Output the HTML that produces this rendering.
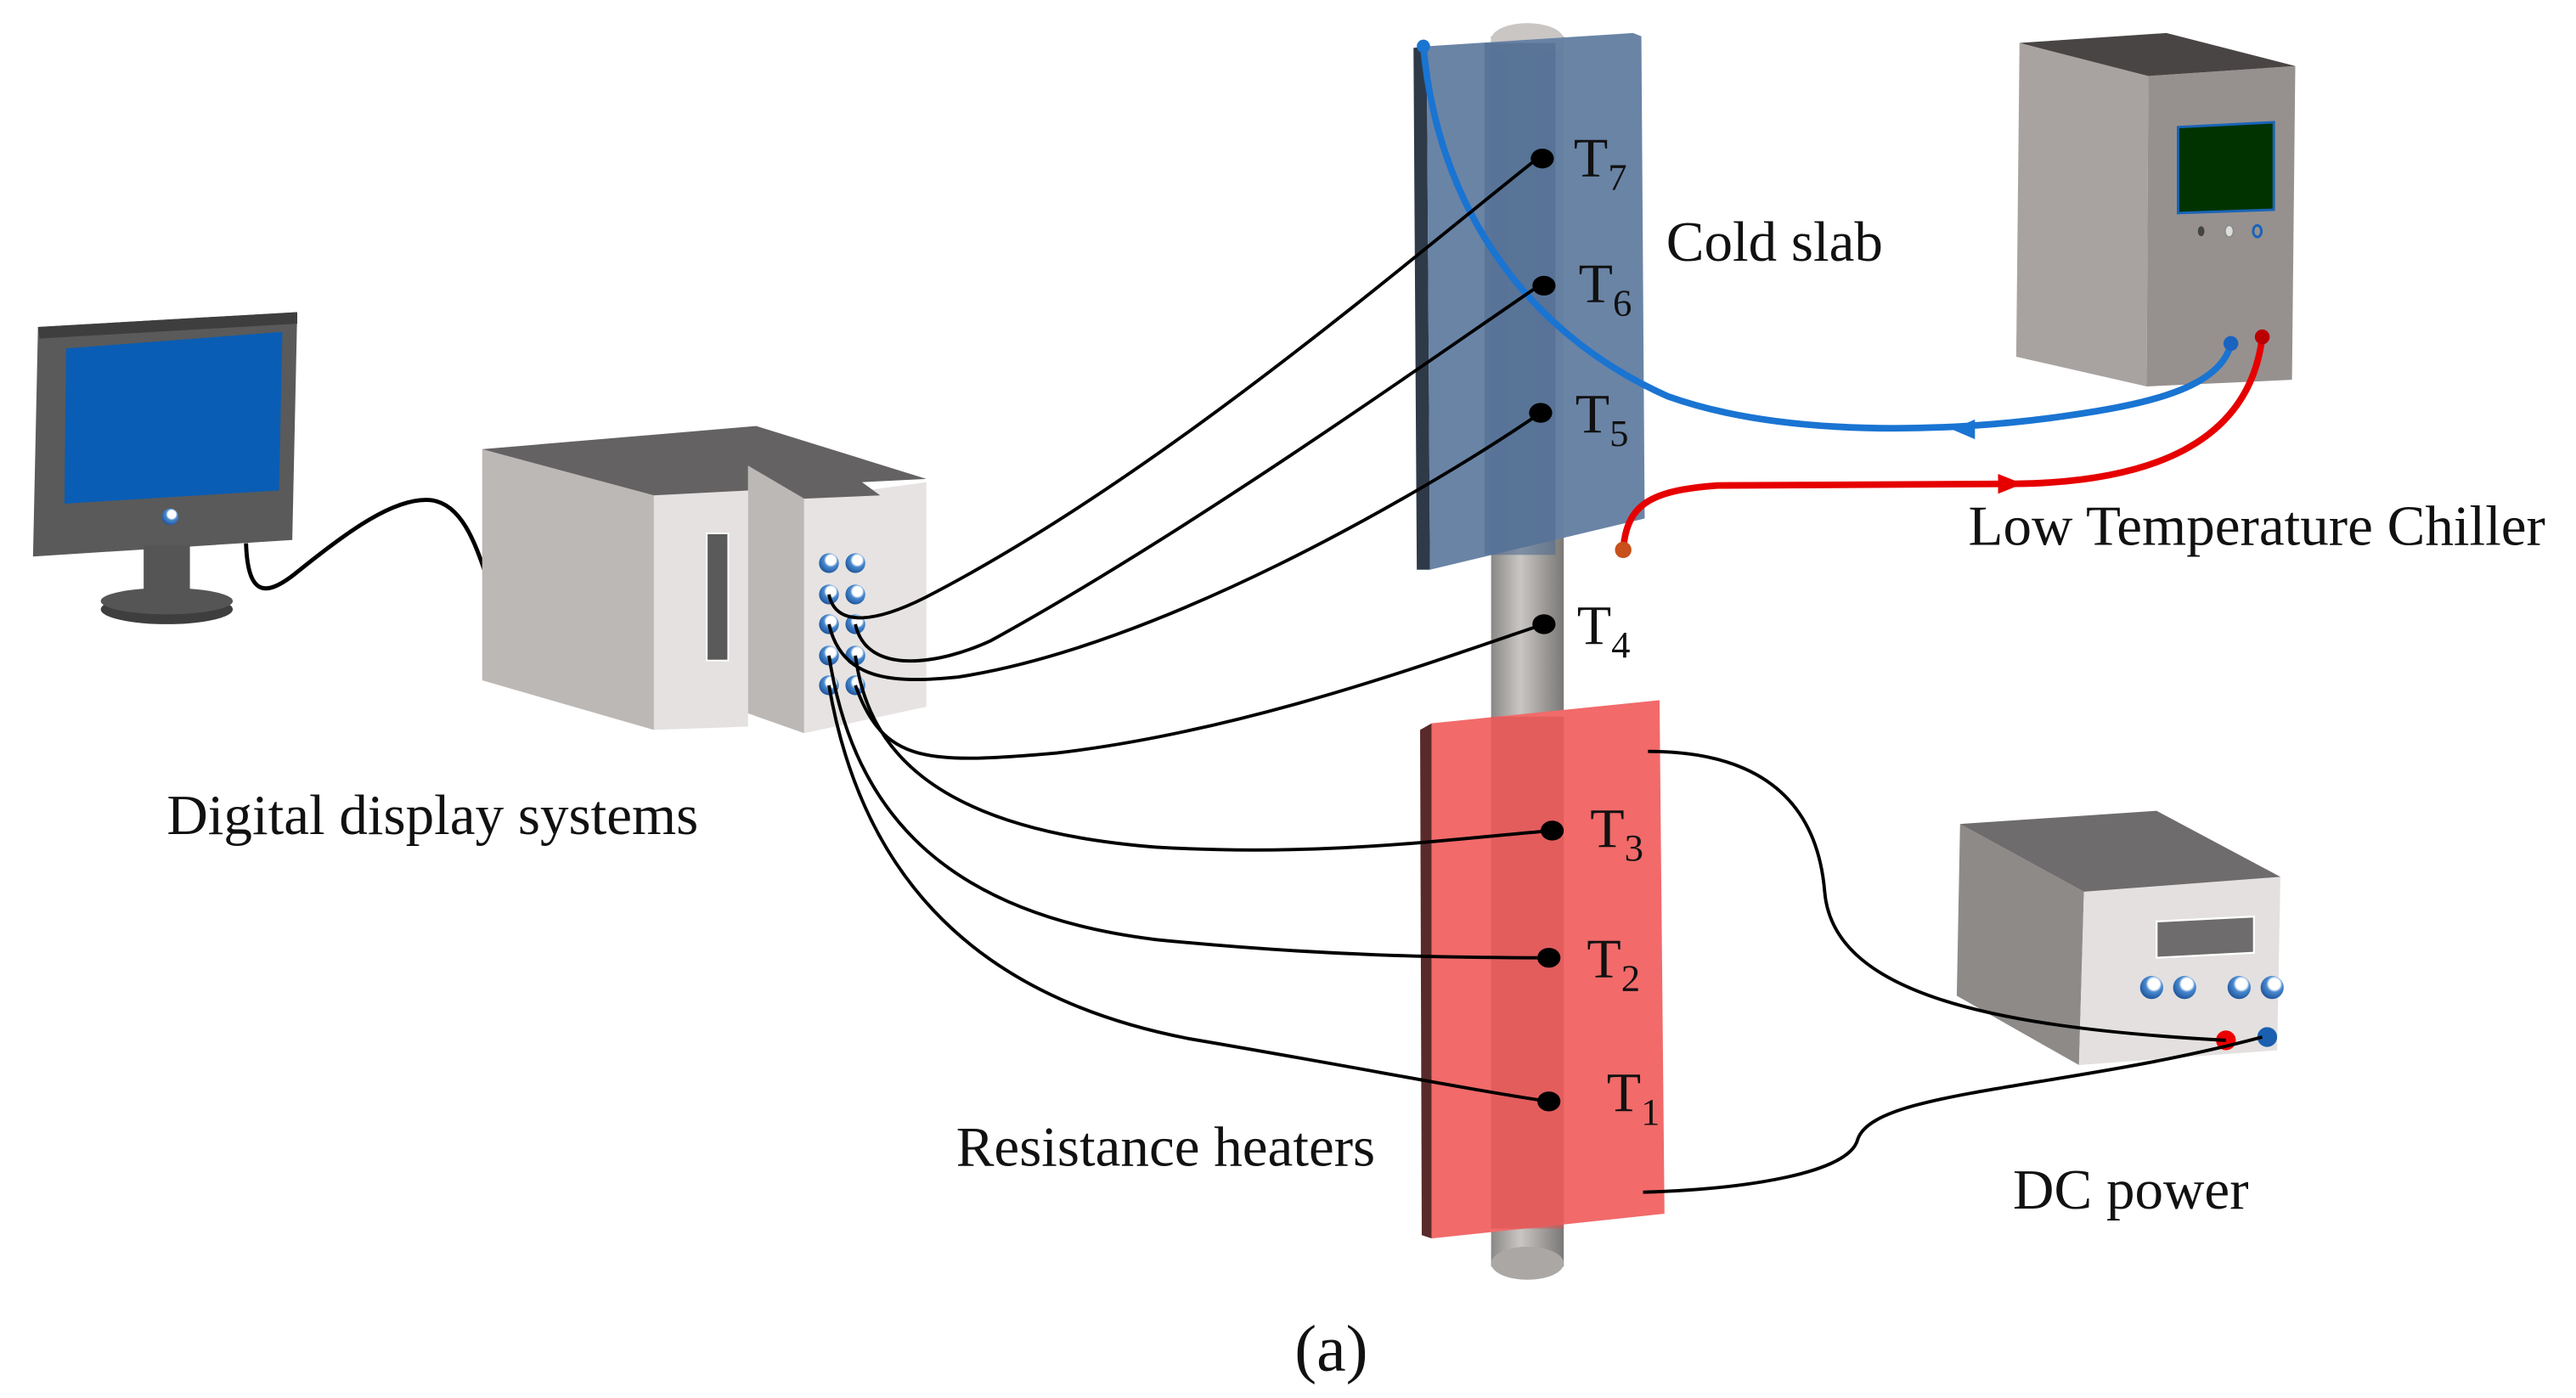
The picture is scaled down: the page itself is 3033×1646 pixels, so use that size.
<!DOCTYPE html>
<html><head><meta charset="utf-8"><style>
html,body{margin:0;padding:0;background:#fff;}
svg{display:block;}
text{font-family:"Liberation Serif",serif;fill:#111;}
</style></head><body>
<svg width="3033" height="1646" viewBox="0 0 1560 846.6" xmlns="http://www.w3.org/2000/svg">
<defs>
<linearGradient id="rod" x1="0" x2="1" y1="0" y2="0">
<stop offset="0" stop-color="#8a8886"/><stop offset="0.4" stop-color="#c9c6c3"/><stop offset="1" stop-color="#7a7876"/>
</linearGradient>
<radialGradient id="knob" cx="0.6" cy="0.35" r="0.7">
<stop offset="0" stop-color="#fff"/><stop offset="0.35" stop-color="#fff"/><stop offset="0.5" stop-color="#4a8ad0"/><stop offset="1" stop-color="#1a4f95"/>
</radialGradient>
</defs>

<!-- Monitor -->
<polygon points="23,198 180,189 177,327 20,337" fill="#5a5a5a"/>
<polygon points="23,198 180,189 180,196 24,205" fill="#3e3e3e"/>
<polygon points="40,211 171,201 169,297 39,305" fill="#0a5db4"/>
<circle cx="103" cy="313" r="5" fill="url(#knob)"/>
<rect x="87" y="330" width="28" height="28" fill="#555"/>
<ellipse cx="101" cy="369" rx="40" ry="9" fill="#3e3e3e"/>
<ellipse cx="101" cy="364" rx="40" ry="8" fill="#555"/>
<path d="M149,329 C150,360 160,362 178,348 C210,322 240,300 262,303 C280,306 288,330 294,347" fill="none" stroke="#000" stroke-width="2.5"/>

<!-- Display box -->
<polygon points="292,272 396,300 396,442 292,412" fill="#bcb8b6"/>
<polygon points="396,300 453,297 453,440 396,442" fill="#e4e1e0"/>
<rect x="428" y="323" width="13" height="77" fill="#5a5a5a" stroke="#fff" stroke-width="1"/>
<polygon points="453,282 487,302 487,444 453,432" fill="#bcb8b6"/>
<polygon points="487,302 561,292 561,428 487,444" fill="#e6e3e2"/>
<polygon points="292,272 458,258 561,290 522,292 533,300 487,302 453,282 453,297 396,300" fill="#646262"/>
<g fill="url(#knob)">
<circle cx="502" cy="341" r="6"/><circle cx="518" cy="341" r="6"/>
<circle cx="502" cy="360" r="6"/><circle cx="518" cy="360" r="6"/>
<circle cx="502" cy="378" r="6"/><circle cx="518" cy="378" r="6"/>
<circle cx="502" cy="397" r="6"/><circle cx="518" cy="397" r="6"/>
<circle cx="502" cy="415" r="6"/><circle cx="518" cy="415" r="6"/>
</g>

<!-- Rod -->
<rect x="903" y="22" width="44" height="745" fill="url(#rod)"/>
<ellipse cx="925" cy="24" rx="22" ry="10" fill="#c9c6c3"/>
<ellipse cx="925" cy="765" rx="22" ry="10" fill="#aaa7a4"/>

<!-- Cold slab -->
<polygon points="856,29 864,28 866,345 858,345" fill="#2f3a48"/>
<polygon points="864,28 989,20 994,22 996,314 866,345" fill="#6580a3" opacity="0.97"/>
<rect x="899" y="26" width="43" height="310" fill="#4f6a8f" opacity="0.6"/>

<!-- Heater -->
<polygon points="860,442 867,438 867,750 861,748" fill="#5a2a2a"/>
<polygon points="867,438 1005,424 1008,735 867,750" fill="#f26a6a"/>
<rect x="903" y="434" width="44" height="310" fill="#d85555" opacity="0.6"/>

<!-- Chiller -->
<polygon points="1223,26 1301,46 1300,234 1221,216" fill="#a8a3a1"/>
<polygon points="1301,46 1390,40 1388,230 1300,234" fill="#96918f"/>
<polygon points="1223,26 1312,20 1390,40 1301,46" fill="#4a4545"/>
<polygon points="1319,77 1377,74 1377,127 1319,129" fill="#013301" stroke="#1a64b8" stroke-width="1.5"/>
<ellipse cx="1333" cy="140" rx="2" ry="3" fill="#444"/>
<ellipse cx="1350" cy="140" rx="2.5" ry="3.5" fill="#ddd" stroke="#888" stroke-width="0.8"/>
<ellipse cx="1367" cy="140" rx="2.5" ry="3.5" fill="none" stroke="#1a64b8" stroke-width="1.5"/>

<!-- Pipes -->
<path d="M862,28 C870,120 920,200 1010,240 C1080,265 1180,262 1250,252 C1300,245 1345,235 1351,208" fill="none" stroke="#1a74d2" stroke-width="4"/>
<circle cx="862" cy="28" r="4" fill="#1a74d2"/>
<circle cx="1351" cy="208" r="4.5" fill="#1a64c0"/>
<polygon points="1182,260 1196,254 1196,266" fill="#1a74d2"/>
<path d="M983,333 C985,305 1000,297 1040,294 L1220,293 C1300,292 1362,270 1370,204" fill="none" stroke="#e60000" stroke-width="4"/>
<circle cx="1370" cy="204" r="4.5" fill="#b00"/>
<polygon points="1225,293 1210,287 1210,299" fill="#e60000"/>
<circle cx="983" cy="333" r="5" fill="#c8501a"/>

<!-- Thermocouple wires -->
<g fill="none" stroke="#000" stroke-width="2">
<path d="M502,360 C506,380 530,377 560,362 C700,290 850,160 931,96"/>
<path d="M518,378 C525,410 570,402 600,388 C720,322 860,222 932,173"/>
<path d="M502,378 C510,412 540,414 580,410 C700,392 860,300 933,250"/>
<path d="M518,415 C535,462 560,463 640,456 C760,442 880,396 935,378"/>
<path d="M518,397 C525,450 560,502 700,513 C800,519 880,508 940,503"/>
<path d="M502,397 C515,480 560,552 700,569 C800,579 880,580 938,580"/>
<path d="M502,415 C520,520 580,602 720,629 C820,646 890,660 938,667"/>
</g>
<g fill="#000">
<ellipse cx="934" cy="96" rx="7" ry="6"/>
<ellipse cx="935" cy="173" rx="7" ry="6"/>
<ellipse cx="933" cy="250" rx="7" ry="6"/>
<ellipse cx="935" cy="378" rx="7" ry="6"/>
<ellipse cx="940" cy="503" rx="7" ry="6"/>
<ellipse cx="938" cy="580" rx="7" ry="6"/>
<ellipse cx="938" cy="667" rx="7" ry="6"/>
</g>

<!-- T labels -->
<g font-size="34">
<text x="953" y="107">T<tspan font-size="23" dy="8">7</tspan></text>
<text x="956" y="183">T<tspan font-size="23" dy="8">6</tspan></text>
<text x="954" y="262">T<tspan font-size="23" dy="8">5</tspan></text>
<text x="955" y="390">T<tspan font-size="23" dy="8">4</tspan></text>
<text x="963" y="513">T<tspan font-size="23" dy="8">3</tspan></text>
<text x="961" y="592">T<tspan font-size="23" dy="8">2</tspan></text>
<text x="973" y="673">T<tspan font-size="23" dy="8">1</tspan></text>
</g>

<!-- DC power -->
<polygon points="1187,499 1262,540 1259,645 1185,603" fill="#8e8a88"/>
<polygon points="1262,540 1381,531 1379,636 1259,645" fill="#e3e0df"/>
<polygon points="1187,499 1306,491 1381,531 1262,540" fill="#6e6c6c"/>
<polygon points="1306,558 1365,555 1365,577 1306,580" fill="#6e6c6c" stroke="#fff" stroke-width="1.2"/>
<g fill="url(#knob)">
<circle cx="1303" cy="598" r="7"/><circle cx="1323" cy="598" r="7"/>
<circle cx="1356" cy="598" r="7"/><circle cx="1376" cy="598" r="7"/>
</g>
<circle cx="1348" cy="630" r="6" fill="#e00"/>
<circle cx="1373" cy="628" r="6" fill="#1a5fb0"/>
<g fill="none" stroke="#000" stroke-width="2">
<path d="M998,455 C1060,455 1100,480 1105,540 C1110,600 1200,622 1348,630"/>
<path d="M995,722 C1060,720 1120,710 1125,690 C1135,660 1250,660 1370,628"/>
</g>

<!-- Labels -->
<g font-size="34.5">
<text x="1009" y="158">Cold slab</text>
<text x="1192" y="330">Low Temperature Chiller</text>
<text x="101" y="505">Digital display systems</text>
<text x="579" y="706">Resistance heaters</text>
<text x="1219" y="732">DC power</text>
</g>
<text x="784" y="830" font-size="40">(a)</text>
</svg>
</body></html>
